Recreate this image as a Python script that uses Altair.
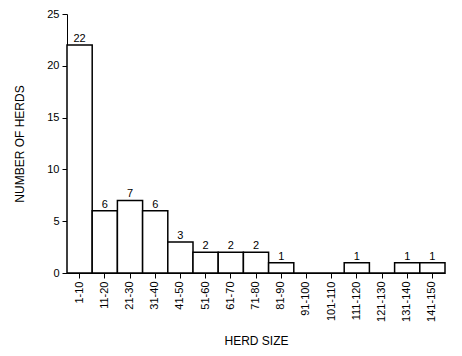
import altair as alt
import pandas as pd

categories = ["1-10", "11-20", "21-30", "31-40", "41-50", "51-60", "61-70", "71-80",
              "81-90", "91-100", "101-110", "111-120", "121-130", "131-140", "141-150"]
counts = [22, 6, 7, 6, 3, 2, 2, 2, 1, 0, 0, 1, 0, 1, 1]
y_ticks = [0, 5, 10, 15, 20, 25]

df = pd.DataFrame({"size": categories, "n": counts})
df["label"] = df["n"].apply(lambda v: str(v) if v > 0 else "")

FONT = "Liberation Sans"

x = alt.X("size:N", sort=categories, title="HERD SIZE",
          scale=alt.Scale(paddingInner=0, paddingOuter=0),
          axis=alt.Axis(labelAngle=-90, labelAlign="right", labelBaseline="middle",
                        labelPadding=3, tickSize=5, titlePadding=14,
                        domainColor="black", tickColor="black", labelColor="black",
                        titleColor="black", labelFont=FONT, titleFont=FONT,
                        labelFontSize=11, titleFontSize=12, titleFontWeight="normal"))
y = alt.Y("n:Q", title="NUMBER OF HERDS",
          scale=alt.Scale(domain=[0, 25], nice=False),
          axis=alt.Axis(values=y_ticks, grid=False, tickSize=5, labelPadding=3,
                        titlePadding=20, domainColor="black", tickColor="black",
                        labelColor="black", titleColor="black", labelFont=FONT,
                        titleFont=FONT, labelFontSize=11, titleFontSize=12,
                        titleFontWeight="normal"))

bars = alt.Chart(df).mark_bar(fill="white", stroke="black", strokeWidth=1.5).encode(x=x, y=y)
labels = alt.Chart(df).mark_text(dy=-6, font=FONT, fontSize=11, color="black").encode(
    x=x, y=y, text="label:N")

chart = (bars + labels).properties(
    width=378, height=259,
    padding={"left": 5, "right": 0, "top": 0, "bottom": 0},
).configure_view(stroke=None)

chart.save("out.html", embed_options={"renderer": "svg", "actions": False})
